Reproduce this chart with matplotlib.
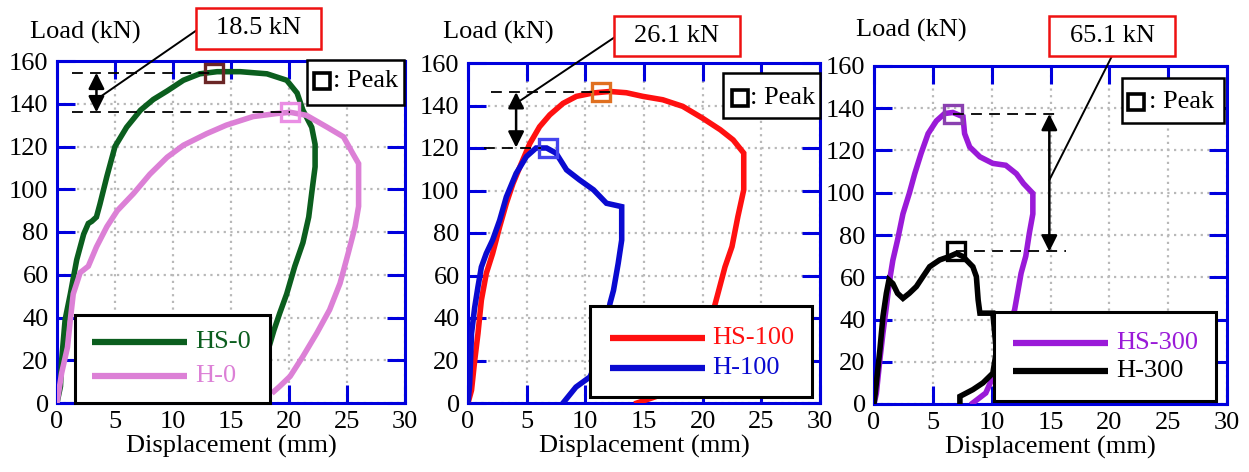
"""Load-displacement curves for HS/H specimens, three panels -> out.png"""
import matplotlib
matplotlib.use("Agg")
import matplotlib.pyplot as plt
from matplotlib.lines import Line2D
from matplotlib.patches import Rectangle

plt.rcParams["font.family"] = "serif"
plt.rcParams["font.serif"] = ["Liberation Serif", "DejaVu Serif"]
plt.rcParams["font.size"] = 19
FONT = "Liberation Serif"
FS = 19

W, H = 1249, 472
BLUE_AX = "#0000dd"

# ---- panel 1: HS-0 / H-0 ----
hs0_x = [0, 0.3, 0.4, 0.7, 1.15, 1.7, 2.3, 2.7, 3.0, 3.4, 3.7, 4.3, 5.0, 6.0, 7.2, 8.3, 9.5,
         10.9, 12.3, 13.8, 15.8, 18.1, 19.8, 20.7, 21.2, 21.96, 22.25, 22.25, 22.0, 21.7,
         21.2, 20.5, 19.8, 19.2, 18.7, 18.1, 17.5, 17.2]
hs0_y = [0, 7.8, 20, 39, 51, 67, 79, 84, 85, 87, 93, 106, 120, 129, 137, 142, 146,
         151, 154, 155, 155, 154, 151, 145, 137, 129, 121, 110.5, 100, 87,
         75, 64, 51, 42, 34, 23, 9, 0]
h0_x = [0, 0.4, 0.9, 1.15, 1.4, 2.0, 2.7, 3.4, 4.3, 5.2, 6.6, 8.0, 9.5, 10.9, 12.9, 14.6,
        16.9, 18.9, 20.1, 21.5, 23.3, 24.7, 25.5, 26.0, 26.0, 25.7, 25.1, 24.4, 23.5,
        22.4, 21.2, 20.1, 19.2, 18.7]
h0_y = [0, 14, 26, 39, 51, 61, 64, 73, 82.5, 90, 98, 107, 115, 120.6, 126, 130,
        134, 135.4, 136, 134.6, 129, 124.5, 116.7, 112, 92, 82.5, 70, 56, 43.6,
        32.7, 21.8, 12.5, 7.8, 5.4]
peak_hs0 = (13.5, 154.5)
peak_h0 = (20.1, 136.0)

# ---- panel 2: HS-100 / H-100 ----
hs100_x = [0, 0.3, 0.57, 0.85, 1.14, 1.56, 2.1, 2.7, 3.27, 3.84, 4.55, 5.26, 6.1, 6.97,
           8.1, 9.24, 10.66, 12.1, 13.5, 14.9, 16.6, 18.3, 20.0, 21.5, 22.6, 23.5, 23.5,
           23.0, 22.5, 21.9, 21.3, 21.0, 20.5, 19.0, 16.0, 14.4]
hs100_y = [0, 6, 20, 32.7, 48.4, 61, 70.4, 83, 94, 103.4, 112.8, 122, 130, 135.6,
           141, 144.3, 145.9, 146.6, 146, 144.3, 142.7, 139.6, 134, 128.6, 123.8, 117.6,
           100.3, 87.7, 73.6, 64, 51.5, 45.3, 35, 15, 3, 0]
h100_x = [0, 0.14, 0.3, 0.57, 0.85, 1.14, 1.56, 2.1, 2.7, 3.27, 4.1, 4.98, 5.8, 6.7, 7.5,
          8.4, 9.5, 10.7, 11.8, 13.1, 13.1, 12.8, 12.4, 12.1, 11.4, 10.4, 9.2, 8.1]
h100_y = [0, 9, 32.7, 45, 54.7, 64, 70.4, 76.7, 86, 97, 108, 116, 120, 120, 117.6,
          109.7, 105, 100.3, 94, 92.4, 76.7, 65.7, 53, 46.8, 25, 12.3, 7.5, 0]
peak_hs100 = (11.3, 146.3)
peak_h100 = (6.8, 120.2)

# ---- panel 3: HS-300 / H-300 ----
hs300_x = [0, 0.2, 0.5, 0.76, 1.05, 1.33, 1.6, 2.0, 2.46, 3.0, 3.46, 4.0, 4.6, 5.3, 6.0,
           6.7, 7.56, 7.7, 8.13, 9.0, 10.1, 11.2, 12.1, 12.7, 13.5, 13.5, 13.2, 12.9,
           12.5, 12.2, 11.95, 11.0, 10.2, 9.5, 8.4]
hs300_y = [0, 5, 21, 33.5, 46, 58.7, 68, 77.6, 90, 99.7, 109, 118.6, 128, 134, 137.5,
           138, 136, 128, 121.7, 117, 113.9, 113, 109, 104.4, 99.7, 90, 80.8, 70,
           61.9, 52.4, 44.6, 28, 14, 5.2, 0.5]
h300_x = [0, 0.2, 0.5, 0.76, 1.05, 1.27, 1.6, 2.0, 2.46, 3.0, 3.6, 4.16, 4.73, 5.58, 6.4,
          7.0, 7.56, 8.4, 8.7, 8.85, 9.0, 10.1, 10.4, 10.1, 9.26, 8.4, 7.3, 7.3]
h300_y = [0, 10, 25.7, 41.4, 52.4, 58.7, 57, 52.4, 50, 52.4, 55.6, 60.3, 65, 68.2, 69.8,
          71.3, 69.8, 65, 60.3, 49.3, 43, 43, 25, 14.6, 10, 6.8, 3.6, 0]
peak_hs300 = (6.7, 137.3)
peak_h300 = (7.0, 72.2)

diff_labels = ["18.5 kN", "26.1 kN", "65.1 kN"]

x_ticks = [0, 5, 10, 15, 20, 25, 30]
y_ticks = [0, 20, 40, 60, 80, 100, 120, 140, 160]


def fx(x):
    return x / W


def fy(y):
    return 1 - y / H


def fig_rect(fig, x0, y0, x1, y1, edge, lw):
    r = Rectangle((fx(x0), fy(y1)), fx(x1) - fx(x0), fy(y0) - fy(y1),
                  transform=fig.transFigure, facecolor="white",
                  edgecolor=edge, lw=lw, zorder=5)
    fig.add_artist(r)


def legend_box(fig, box, rows):
    x0, y0, x1, y1 = box
    fig_rect(fig, x0, y0, x1, y1, "black", 2.2)
    for lx0, lx1, ly, tx, label, color in rows:
        fig.add_artist(Line2D([fx(lx0), fx(lx1)], [fy(ly), fy(ly)],
                              transform=fig.transFigure, color=color,
                              lw=4.5, solid_capstyle="butt", zorder=6))
        fig.text(fx(tx), fy(ly), label, color=color, fontsize=FS, family=FONT,
                 ha="left", va="center", zorder=7)


def peak_box(fig, box, mpos, tx):
    x0, y0, x1, y1 = box
    fig_rect(fig, x0, y0, x1, y1, "black", 1.8)
    fig.add_artist(Line2D([fx(mpos[0])], [fy(mpos[1])], transform=fig.transFigure,
                          marker="s", ms=11, mfc="none", mec="black", mew=2.6,
                          ls="none", zorder=6))
    fig.text(fx(tx), fy(mpos[1]), ": Peak", fontsize=FS, family=FONT, ha="left",
             va="center", zorder=7)


def red_box(fig, box, label):
    x0, y0, x1, y1 = box
    fig_rect(fig, x0, y0, x1, y1, "#ee1111", 1.8)
    fig.text((fx(x0) + fx(x1)) / 2, (fy(y0) + fy(y1)) / 2, label, fontsize=FS,
             family=FONT, ha="center", va="center", zorder=7)


panels = [
    dict(rect=(57, 61, 405, 403),
         curves=[(hs0_x, hs0_y, "#0b5e1e", "HS-0"), (h0_x, h0_y, "#dc80d6", "H-0")],
         peaks=[(peak_hs0, "#6b2626"), (peak_h0, "#ea8ee4")],
         dash=[(1.3, peak_hs0[0]), (1.3, peak_h0[0])], arrow_x=3.4, lead_y=142,
         lead_to=(197, 30),
         red=(196, 8, 321, 49), ylab=(85, 32),
         legend=(75, 315, 270, 403), leg_lines=(92, 187, 342, 376, 195),
         pbox=(307, 60, 404, 105), pmark=(322, 81), ptext=(333)),
    dict(rect=(468, 63, 820, 403),
         curves=[(hs100_x, hs100_y, "#ff1010", "HS-100"), (h100_x, h100_y, "#0a0ad0", "H-100")],
         peaks=[(peak_hs100, "#e07020"), (peak_h100, "#4444ee")],
         dash=[(2.0, 12.2), (1.4, 6.2)], arrow_x=4.1, lead_y=141,
         lead_to=(615, 37),
         red=(614, 16, 740, 56), ylab=(498, 32),
         legend=(590, 306, 812, 397), leg_lines=(610, 705, 338, 368, 712),
         pbox=(723, 73, 820, 118), pmark=(740, 98), ptext=(750)),
    dict(rect=(874, 66, 1227, 404),
         curves=[(hs300_x, hs300_y, "#9a1ad8", "HS-300"), (h300_x, h300_y, "black", "H-300")],
         peaks=[(peak_hs300, "#8a40b0"), (peak_h300, "black")],
         dash=[(6.7, 15.4), (7.0, 16.3)], arrow_x=14.9, lead_y=106,
         lead_to=(1112, 56),
         red=(1049, 16, 1175, 56), ylab=(911, 30),
         legend=(994, 312, 1216, 401), leg_lines=(1013, 1108, 343, 371, 1116),
         pbox=(1122, 78, 1224, 123), pmark=(1136, 102), ptext=(1149)),
]

fig = plt.figure(figsize=(W / 100, H / 100), dpi=100)

for p, lab in zip(panels, diff_labels):
    x0, y0, x1, y1 = p["rect"]
    ax = fig.add_axes([fx(x0), fy(y1), fx(x1) - fx(x0), fy(y0) - fy(y1)])
    ax.set_xlim(0, 30)
    ax.set_ylim(0, 160)
    ax.set_xticks(x_ticks)
    ax.set_yticks(y_ticks)
    for t in ax.get_xticklabels() + ax.get_yticklabels():
        t.set_family(FONT)
    ax.grid(True, ls=(0, (1, 2)), color="#b8b8b8", lw=1.6)
    ax.set_axisbelow(True)
    for s in ax.spines.values():
        s.set_color(BLUE_AX)
        s.set_linewidth(2.2)
    ax.tick_params(direction="in", length=13, width=2.2, color=BLUE_AX,
                   top=True, right=True, labelsize=FS, pad=6)
    ax.set_xlabel("Displacement (mm)", fontsize=FS, family=FONT, labelpad=1)

    for cx, cy, color, _ in p["curves"]:
        ax.plot(cx, cy, color=color, lw=4, solid_joinstyle="miter", zorder=3)
    for (pxv, pyv), color in p["peaks"]:
        ax.plot(pxv, pyv, marker="s", ms=12.5, mfc="none", mec=color, mew=2.4,
                ls="none", zorder=4)

    (hi, lo) = (p["peaks"][0][0][1], p["peaks"][1][0][1])
    ax.plot(p["dash"][0], [hi, hi], color="black", lw=1.3, ls=(0, (6, 4)), zorder=4)
    ax.plot(p["dash"][1], [lo, lo], color="black", lw=1.3, ls=(0, (6, 4)), zorder=4)
    ax.annotate("", xy=(p["arrow_x"], lo), xytext=(p["arrow_x"], hi),
                arrowprops=dict(arrowstyle="<|-|>,head_length=0.48,head_width=0.24",
                                color="black", lw=1.8,
                                mutation_scale=20, shrinkA=0, shrinkB=0), zorder=4)
    ax.annotate("", xy=(p["arrow_x"], p["lead_y"]),
                xytext=(fx(p["lead_to"][0]), fy(p["lead_to"][1])),
                textcoords="figure fraction",
                arrowprops=dict(arrowstyle="-", color="black", lw=1.4,
                                shrinkA=0, shrinkB=0), annotation_clip=False)

    red_box(fig, p["red"], lab)
    fig.text(fx(p["ylab"][0]), fy(p["ylab"][1]), "Load (kN)", fontsize=FS,
             family=FONT, ha="center", va="center")
    lx0, lx1, ly1, ly2, tx = p["leg_lines"]
    legend_box(fig, p["legend"],
               [(lx0, lx1, ly1, tx, p["curves"][0][3], p["curves"][0][2]),
                (lx0, lx1, ly2, tx, p["curves"][1][3], p["curves"][1][2])])
    peak_box(fig, p["pbox"], p["pmark"], p["ptext"])

fig.savefig("out.png", dpi=100)
